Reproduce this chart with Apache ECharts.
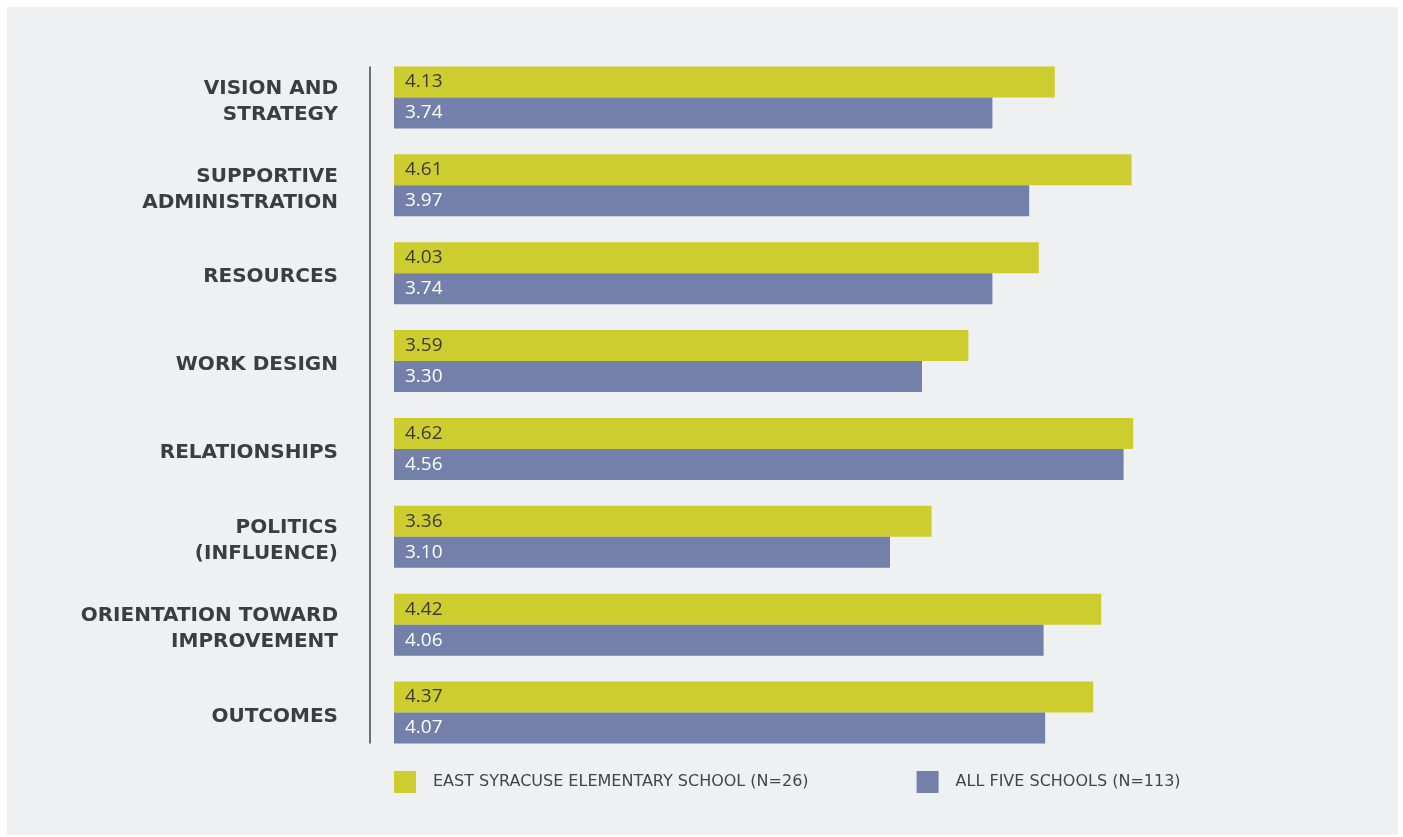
<!DOCTYPE html>
<html>
<head>
<meta charset="utf-8">
<script src="https://cdn.jsdelivr.net/npm/echarts@6/dist/echarts.min.js"></script>
<style>
  html, body { margin: 0; padding: 0; background: #ffffff; }
  #chart { position: absolute; left: 7px; top: 7px; width: 1391px; height: 828px; }
</style>
</head>
<body>
<div id="chart"></div>
<script>
// categories, top to bottom
const categories = [
  "VISION AND\nSTRATEGY",
  "SUPPORTIVE\nADMINISTRATION",
  "RESOURCES",
  "WORK DESIGN",
  "RELATIONSHIPS",
  "POLITICS\n(INFLUENCE)",
  "ORIENTATION TOWARD\nIMPROVEMENT",
  "OUTCOMES",
];
const eastSyracuse = [4.13, 4.61, 4.03, 3.59, 4.62, 3.36, 4.42, 4.37];
const allFiveSchools = [3.74, 3.97, 3.74, 3.3, 4.56, 3.1, 4.06, 4.07];
const seriesNames = ["EAST SYRACUSE ELEMENTARY SCHOOL (N=26)", "ALL FIVE SCHOOLS (N=113)"];

const GREEN = "#cdcd30";
const BLUE = "#7280aa";
const LABEL_FONT = "'DejaVu Sans', sans-serif";
const VALUE_FONT = "'Open Sans', 'DejaVu Sans', sans-serif";

const chart = echarts.init(document.getElementById("chart"));

const valueLabel = (color) => ({
  show: true,
  position: "insideLeft",
  distance: 11,
  fontSize: 19,
  fontWeight: 500,
  color: color,
  fontFamily: VALUE_FONT,
  formatter: (p) => p.value.toFixed(2),
});

// category label lines, pushed a little below the band centre
const catStyle = {
  fontSize: 20,
  fontWeight: "bold",
  lineHeight: 26,
  padding: [8, 0, 0, 0],
  color: "#3d3d3d",
  fontFamily: LABEL_FONT,
  align: "right",
};

const catLabel = (v) => v.split("\n").map((line) => "{c|" + line + "}").join("\n");

const option = {
  backgroundColor: "#eff0f2",
  animation: false,
  textStyle: { fontFamily: LABEL_FONT },
  grid: [
    { left: 387, top: 46.5, width: 960, height: 703 },
    // only carries the vertical axis line, which spans the bars
    { left: 387, top: 60, width: 960, height: 676 },
  ],
  legend: {
    left: 387,
    top: 764,
    padding: 0,
    itemWidth: 22,
    itemHeight: 22,
    itemGap: 108,
    icon: "rect",
    textStyle: {
      fontSize: 16,
      color: "#444",
      fontFamily: LABEL_FONT,
      padding: [0, 0, 0, 12],
    },
    data: seriesNames,
  },
  xAxis: [
    { type: "value", gridIndex: 0, min: 0, max: 6, show: false },
    { type: "value", gridIndex: 1, min: 0, max: 6, show: false },
  ],
  yAxis: [
    {
      type: "category",
      gridIndex: 0,
      data: categories,
      inverse: true,
      offset: 24,
      axisLine: { show: false },
      axisTick: { show: false },
      axisLabel: {
        margin: 32,
        formatter: catLabel,
        rich: { c: catStyle },
      },
    },
    {
      type: "category",
      gridIndex: 1,
      data: categories,
      inverse: true,
      offset: 24,
      axisLine: { show: true, onZero: false, lineStyle: { color: "#444", width: 1.5 } },
      axisTick: { show: false },
      axisLabel: { show: false },
    },
  ],
  series: [
    {
      name: seriesNames[0],
      type: "bar",
      data: eastSyracuse,
      barWidth: 31,
      barGap: 0,
      itemStyle: { color: GREEN },
      label: valueLabel("#3a3a3a"),
    },
    {
      name: seriesNames[1],
      type: "bar",
      data: allFiveSchools,
      barWidth: 31,
      barGap: 0,
      itemStyle: { color: BLUE },
      label: valueLabel("#ffffff"),
    },
  ],
};

chart.setOption(option);
window.addEventListener("resize", () => chart.resize());
</script>
</body>
</html>
